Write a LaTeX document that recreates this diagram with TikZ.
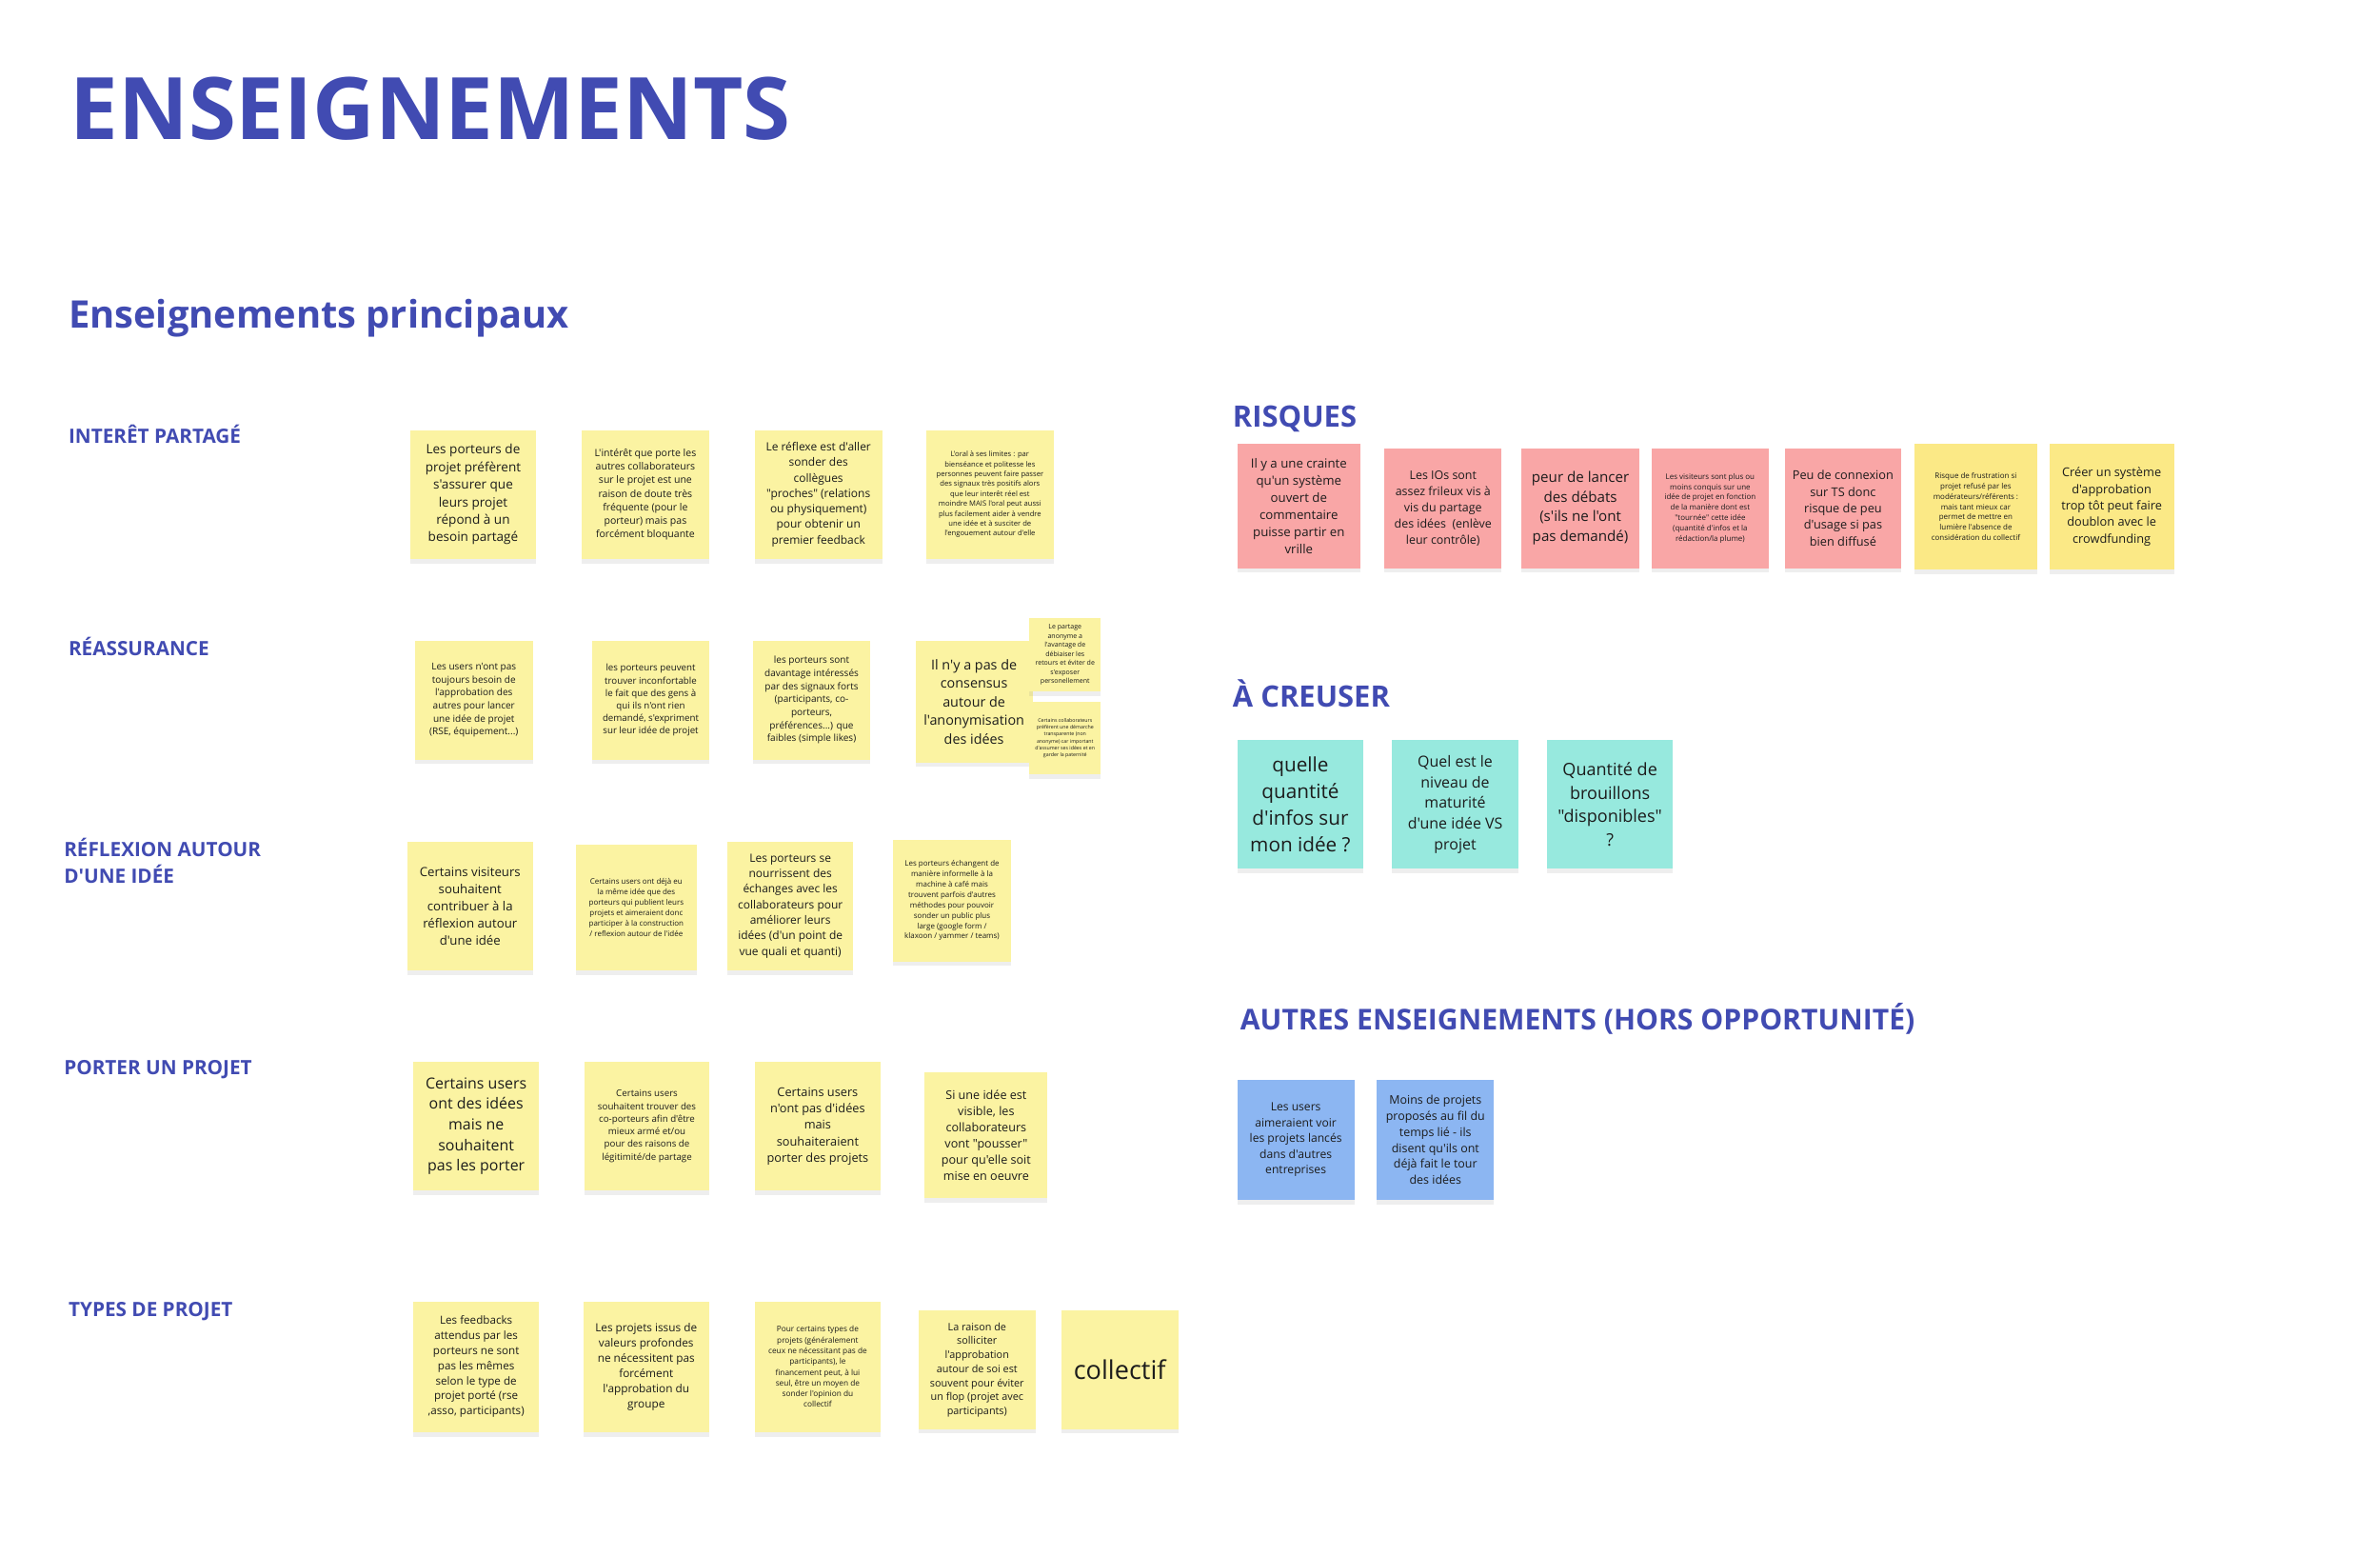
\documentclass[tikz,border=0pt]{standalone}
\usepackage{fontspec}
\setmainfont{Open Sans}[Ligatures=TeXOff]
\usepackage{tikz}
\usetikzlibrary{shadows}

\definecolor{titre}{HTML}{414BB2}
\definecolor{encre}{HTML}{1C1C1C}
\definecolor{jaune}{HTML}{FBF3A2}
\definecolor{jaunefort}{HTML}{FBE986}
\definecolor{rose}{HTML}{F9A6A6}
\definecolor{turquoise}{HTML}{97E9DE}
\definecolor{bleu}{HTML}{8CB6F2}

\newcommand{\fsz}[1]{\fontsize{#1}{\fpeval{1.36*#1}}\selectfont}

\begin{document}
\begin{tikzpicture}[x=1pt, y=-1pt,
          postit/.style={anchor=north west, align=center, inner sep=1pt, text=encre,
            drop shadow={shadow xshift=0pt, shadow yshift=-3pt, opacity=0.13}},
          taille/.style 2 args={minimum width=#1pt, minimum height=#2pt},
          rubrique/.style={anchor=base west, inner sep=0pt, text=titre, font=\bfseries\fsz{13}},
          section/.style={anchor=base west, inner sep=0pt, text=titre, font=\bfseries\fsz{19.4}}
        ]
          % Rahmen
          \fill[white] (0,0) rectangle (1568,1025);
          \useasboundingbox (0,0) rectangle (1568,1025);

          % Titel
          \node[anchor=base west, inner sep=0pt, text=titre, font=\bfseries\fontsize{56.8}{60}\selectfont] (titre) at (46,92) {ENSEIGNEMENTS};
          \node[anchor=base west, inner sep=0pt, text=titre, font=\bfseries\fontsize{25}{28}\selectfont] (principaux) at (45,216) {Enseignements principaux};

          % Rubriken links
          \node[rubrique] (interet) at (45,292) {INTERÊT PARTAGÉ};
          \node[rubrique] (reassurance) at (45,432) {RÉASSURANCE};
          \node[rubrique, align=left, anchor=north west] (reflexion) at (42,552) {RÉFLEXION AUTOUR\\D'UNE IDÉE};
          \node[rubrique] (porter) at (42,708) {PORTER UN PROJET};
          \node[rubrique] (types) at (45,867) {TYPES DE PROJET};

          % Zeile 1
          \node[postit, fill=jaune, taille={83}{85}, font=\fsz{8.5}] (ip1) at (270,283)
            {Les porteurs de\\projet préfèrent\\s'assurer que\\leurs projet\\répond à un\\besoin partagé};
          \node[postit, fill=jaune, taille={84}{85}, font=\fsz{6.6}] (ip2) at (383,283)
            {L'intérêt que porte les\\autres collaborateurs\\sur le projet est une\\raison de doute très\\fréquente (pour le\\porteur) mais pas\\forcément bloquante};
          \node[postit, fill=jaune, taille={84}{85}, font=\fsz{7.5}] (ip3) at (497,283)
            {Le réflexe est d'aller\\sonder des\\collègues\\"proches" (relations\\ou physiquement)\\pour obtenir un\\premier feedback};
          \node[postit, fill=jaune, taille={84}{85}, font=\fsz{4.8}] (ip4) at (610,283)
            {L'oral à ses limites : par\\bienséance et politesse les\\personnes peuvent faire passer\\des signaux très positifs alors\\que leur interêt réel est\\moindre MAIS l'oral peut aussi\\plus facilement aider à vendre\\une idée et à susciter de\\l'engouement autour d'elle};

          % Zeile 2
          \node[postit, fill=jaune, taille={78}{78}, font=\fsz{6.3}] (re1) at (273,422)
            {Les users n'ont pas\\toujours besoin de\\l'approbation des\\autres pour lancer\\une idée de projet\\(RSE, équipement...)};
          \node[postit, fill=jaune, taille={77}{78}, font=\fsz{6.1}] (re2) at (390,422)
            {les porteurs peuvent\\trouver inconfortable\\le fait que des gens à\\qui ils n'ont rien\\demandé, s'expriment\\sur leur idée de projet};
          \node[postit, fill=jaune, taille={77}{78}, font=\fsz{6.3}] (re3) at (496,422)
            {les porteurs sont\\davantage intéressés\\par des signaux forts\\(participants, co-\\porteurs,\\préférences...) que\\faibles (simple likes)};
          \node[postit, fill=jaune, taille={77}{80}, font=\fsz{9}] (re4) at (603,422)
            {Il n'y a pas de\\consensus\\autour de\\l'anonymisation\\des idées};
          \node[postit, fill=jaune, taille={47}{48}, font=\fsz{4.4}] (re5) at (678,407)
            {Le partage\\anonyme a\\l'avantage de\\débiaiser les\\retours et éviter de\\s'exposer\\personellement};
          \node[postit, fill=jaune, taille={47}{48}, font=\fsz{3.3}] (re6) at (678,462)
            {Certains collaborateurs\\préfèrent une démarche\\transparente (non\\anonyme) car important\\d'assumer ses idées et en\\garder la paternité};

          % Zeile 3
          \node[postit, fill=jaune, taille={83}{85}, font=\fsz{8.3}] (ri1) at (268,554)
            {Certains visiteurs\\souhaitent\\contribuer à la\\réflexion autour\\d'une idée};
          \node[postit, fill=jaune, taille={80}{83}, font=\fsz{5}] (ri2) at (379,556)
            {Certains users ont déjà eu\\la même idée que des\\porteurs qui publient leurs\\projets et aimeraient donc\\participer à la construction\\/ reflexion autour de l'idée};
          \node[postit, fill=jaune, taille={83}{85}, font=\fsz{7.5}] (ri3) at (479,554)
            {Les porteurs se\\nourrissent des\\échanges avec les\\collaborateurs pour\\améliorer leurs\\idées (d'un point de\\vue quali et quanti)};
          \node[postit, fill=jaune, taille={78}{80}, font=\fsz{5}] (ri4) at (588,553)
            {Les porteurs échangent de\\manière informelle à la\\machine à café mais\\trouvent parfois d'autres\\méthodes pour pouvoir\\sonder un public plus\\large (google form /\\klaxoon / yammer / teams)};

          % Zeile 4
          \node[postit, fill=jaune, taille={83}{85}, font=\fsz{10}] (pp1) at (272,699)
            {Certains users\\ont des idées\\mais ne\\souhaitent\\pas les porter};
          \node[postit, fill=jaune, taille={82}{85}, font=\fsz{6.1}] (pp2) at (385,699)
            {Certains users\\souhaitent trouver des\\co-porteurs afin d'être\\mieux armé et/ou\\pour des raisons de\\légitimité/de partage};
          \node[postit, fill=jaune, taille={83}{85}, font=\fsz{8}] (pp3) at (497,699)
            {Certains users\\n'ont pas d'idées\\mais\\souhaiteraient\\porter des projets};
          \node[postit, fill=jaune, taille={81}{83}, font=\fsz{7.9}] (pp4) at (609,706)
            {Si une idée est\\visible, les\\collaborateurs\\vont "pousser"\\pour qu'elle soit\\mise en oeuvre};

          % Zeile 5
          \node[postit, fill=jaune, taille={83}{86}, font=\fsz{7.3}] (tp1) at (272,857)
            {Les feedbacks\\attendus par les\\porteurs ne sont\\pas les mêmes\\selon le type de\\projet porté (rse\\,asso, participants)};
          \node[postit, fill=jaune, taille={83}{86}, font=\fsz{7.4}] (tp2) at (384,857)
            {Les projets issus de\\valeurs profondes\\ne nécessitent pas\\forcément\\l'approbation du\\groupe};
          \node[postit, fill=jaune, taille={83}{86}, font=\fsz{5.2}] (tp3) at (497,857)
            {Pour certains types de\\projets (généralement\\ceux ne nécessitant pas de\\participants), le\\financement peut, à lui\\seul, être un moyen de\\sonder l'opinion du\\collectif};
          \node[postit, fill=jaune, taille={77}{78}, font=\fsz{6.8}] (tp4) at (605,863)
            {La raison de\\solliciter\\l'approbation\\autour de soi est\\souvent pour éviter\\un flop (projet avec\\participants)};
          \node[postit, fill=jaune, taille={77}{78}, font=\fsz{17}] (tp5) at (699,863) {collectif};

          % Risques
          \node[section] (risques) at (812,281) {RISQUES};
          \node[postit, fill=rose, taille={81}{82}, font=\fsz{8.3}] (rq1) at (815,292)
            {Il y a une crainte\\qu'un système\\ouvert de\\commentaire\\puisse partir en\\vrille};
          \node[postit, fill=rose, taille={77}{79}, font=\fsz{7.8}] (rq2) at (912,295)
            {Les IOs sont\\assez frileux vis à\\vis du partage\\des idées~ (enlève\\leur contrôle)};
          \node[postit, fill=rose, taille={78}{79}, font=\fsz{9.5}] (rq3) at (1002,295)
            {peur de lancer\\des débats\\(s'ils ne l'ont\\pas demandé)};
          \node[postit, fill=rose, taille={77}{79}, font=\fsz{5}] (rq4) at (1088,295)
            {Les visiteurs sont plus ou\\moins conquis sur une\\idée de projet en fonction\\de la manière dont est\\"tournée" cette idée\\(quantité d'infos et la\\rédaction/la plume)};
          \node[postit, fill=rose, taille={76}{79}, font=\fsz{8}] (rq5) at (1176,295)
            {Peu de connexion\\sur TS donc\\risque de peu\\d'usage si pas\\bien diffusé};
          \node[postit, fill=jaunefort, taille={81}{83}, font=\fsz{5}] (rq6) at (1261,292)
            {Risque de frustration si\\projet refusé par les\\modérateurs/référents :\\mais tant mieux car\\permet de mettre en\\lumière l'absence de\\considération du collectif};
          \node[postit, fill=jaunefort, taille={82}{83}, font=\fsz{8}] (rq7) at (1350,292)
            {Créer un système\\d'approbation\\trop tôt peut faire\\doublon avec le\\crowdfunding};

          % A creuser
          \node[section] (creuser) at (812,466) {À CREUSER};
          \node[postit, fill=turquoise, taille={83}{85}, font=\fsz{13}] (cr1) at (815,487)
            {quelle\\quantité\\d'infos sur\\mon idée ?};
          \node[postit, fill=turquoise, taille={83}{85}, font=\fsz{10}] (cr2) at (917,487)
            {Quel est le\\niveau de\\maturité\\d'une idée VS\\projet};
          \node[postit, fill=turquoise, taille={83}{85}, font=\fsz{11.3}] (cr3) at (1019,487)
            {Quantité de\\brouillons\\"disponibles"\\?};

          % Autres enseignements
          \node[section, font=\bfseries\fsz{18.9}] (autres) at (817,678) {AUTRES ENSEIGNEMENTS (HORS OPPORTUNITÉ)};
          \node[postit, fill=bleu, taille={77}{79}, font=\fsz{7.6}] (ae1) at (815,711)
            {Les users\\aimeraient voir\\les projets lancés\\dans d'autres\\entreprises};
          \node[postit, fill=bleu, taille={77}{79}, font=\fsz{7.8}] (ae2) at (907,711)
            {Moins de projets\\proposés au fil du\\temps lié - ils\\disent qu'ils ont\\déjà fait le tour\\des idées};
        \end{tikzpicture}
\end{document}
